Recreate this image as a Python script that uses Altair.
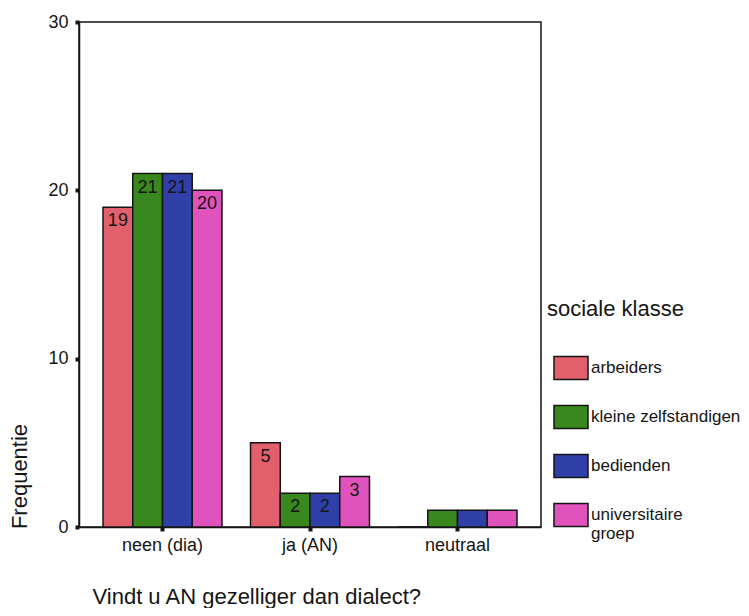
import altair as alt
import pandas as pd

categories = ["neen (dia)", "ja (AN)", "neutraal"]
classes = ["arbeiders", "kleine zelfstandigen", "bedienden", "universitaire groep"]
arbeiders = [19, 5, 0]
kleine_zelfstandigen = [21, 2, 1]
bedienden = [21, 2, 1]
universitaire_groep = [20, 3, 1]
colors = ["#E2606C", "#38881E", "#3040A8", "#E052BC"]

series = [arbeiders, kleine_zelfstandigen, bedienden, universitaire_groep]
rows = []
for cls, vals in zip(classes, series):
    for cat, v in zip(categories, vals):
        rows.append({"categorie": cat, "klasse": cls, "aantal": v})
df = pd.DataFrame(rows)

FONT = "Liberation Sans"
INK = "#151515"

x = alt.X("categorie:N", sort=categories,
          scale=alt.Scale(paddingInner=0, paddingOuter=0.066),
          axis=alt.Axis(title="Vindt u AN gezelliger dan dialect?", labelAngle=0,
                        labelFontSize=18, labelColor=INK, labelPadding=5,
                        labelFont=FONT, titleFont=FONT,
                        tickSize=4, tickWidth=4, tickColor=INK,
                        domainColor=INK, domainWidth=1.5,
                        titleFontSize=22, titleFontWeight="normal", titleColor=INK,
                        titleAnchor="start", titleAlign="left", titleBaseline="alphabetic",
                        titleX=13, titleY=76))
xo = alt.XOffset("klasse:N", sort=classes,
                 scale=alt.Scale(paddingInner=0, paddingOuter=0.48))
y = alt.Y("aantal:Q", scale=alt.Scale(domain=[0, 30]),
          axis=alt.Axis(title="Frequentie", values=[0, 10, 20, 30], grid=False,
                        labelFontSize=18, labelColor=INK, labelPadding=7,
                        labelFont=FONT, titleFont=FONT,
                        tickSize=4, tickWidth=4, tickColor=INK,
                        domainColor=INK, domainWidth=1.5,
                        titleFontSize=22, titleFontWeight="normal", titleColor=INK,
                        titleX=-60, titleY=454, titleAngle=-90, titleAlign="center",
                        titleBaseline="middle"))

bars = alt.Chart(df).mark_bar(stroke=INK, strokeWidth=1.5).encode(
    x=x, xOffset=xo, y=y,
    color=alt.Color("klasse:N", sort=classes,
                    scale=alt.Scale(domain=classes, range=colors),
                    legend=alt.Legend(title="sociale klasse", orient="none",
                                      legendX=468, legendY=277, padding=0,
                                      titleFont=FONT, labelFont=FONT,
                                      titleFontSize=22, titleFontWeight="normal",
                                      titleColor=INK, titlePadding=29,
                                      symbolType="M-1,-0.68L1,-0.68L1,0.68L-1,0.68Z",
                                      symbolSize=1156, symbolStrokeColor=INK,
                                      symbolStrokeWidth=1.5, symbolOpacity=1,
                                      symbolOffset=6,
                                      labelFontSize=17, labelColor=INK,
                                      labelOffset=2, labelLimit=200, rowPadding=16,
                                      labelExpr="datum.label == 'universitaire groep' ? ['universitaire', 'groep'] : datum.label")),
)

labels = alt.Chart(df).transform_filter("datum.aantal > 1").mark_text(
    baseline="middle", align="center", dy=14, fontSize=18, color=INK, font=FONT
).encode(x=alt.X("categorie:N", sort=categories), xOffset=alt.XOffset("klasse:N", sort=classes),
         y="aantal:Q", text="aantal:Q")

chart = alt.layer(bars, labels).properties(
    width=462, height=505,
    autosize=alt.AutoSizeParams(type="none"),
    padding={"left": 71, "top": 14, "right": 200, "bottom": 81},
).configure(font=FONT).configure_view(stroke=INK, strokeWidth=1.5)

chart.save("out.html", embed_options={"renderer": "svg", "actions": False})
